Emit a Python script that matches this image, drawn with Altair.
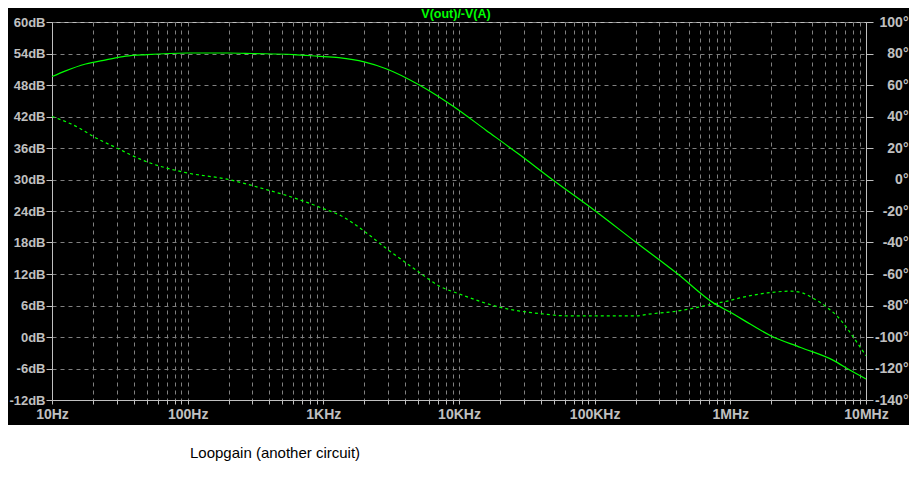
import altair as alt
import pandas as pd

# ---- data ----
mag_freq = [10, 12.6, 17.7, 25, 35, 50, 100, 200, 300, 600, 900, 1300, 2000, 2900, 5100,
            9000, 15800, 27700, 48700, 100000, 198000, 410000, 750000, 1000000, 1200000,
            2000000, 3300000, 5700000, 7600000, 10000000]
mag_db = [49.6, 50.7, 52.0, 52.8, 53.5, 53.8, 54.1, 54.1, 54.0, 53.8, 53.5, 53.2, 52.4, 51.1, 48.0,
          44.0, 39.4, 34.8, 30.0, 24.1, 18.2, 12.0, 6.5, 4.7, 3.5,
          0.2, -2.0, -4.4, -6.3, -8.0]

ph_freq = [10, 15.8, 20, 30, 48, 95, 200, 366, 640, 1000, 1350, 2000, 2900, 4900, 7200,
           10000, 19800, 40000, 64000, 150000, 200000, 250000, 410000, 600000, 750000,
           950000, 1200000, 1880000, 2800000, 3400000, 4000000, 5200000, 6100000, 7200000,
           8200000, 10000000]
ph_deg = [40, 32.8, 27.5, 20, 11.8, 4.5, 0, -6, -12.3, -18.5, -23, -32.8, -43.7, -57.9, -67.8,
          -72.6, -81, -85.2, -86.6, -86.6, -86.6, -85.5, -83.5, -80.8, -79,
          -77.2, -75, -72, -70.9, -72, -75, -81.4, -86.6, -94,
          -101, -111.8]

db_ticks = list(range(-12, 61, 6))
deg_ticks = list(range(-140, 101, 20))
decades = [10, 100, 1000, 10000, 100000, 1000000, 10000000]
decade_labels = ["10Hz", "100Hz", "1KHz", "10KHz", "100KHz", "1MHz", "10MHz"]
x_ticks = [d * m for d in decades[:-1] for m in range(1, 10)] + [decades[-1]]

title_text = ["V(out)/-V(A)"]
note_text = ["Loopgain (another circuit)"]

# ---- build ----
df_mag = pd.DataFrame({"freq": mag_freq, "db": mag_db})
df_ph = pd.DataFrame({"freq": ph_freq, "deg": ph_deg})
df_note = pd.DataFrame({"label": note_text})
df_title = pd.DataFrame({"label": title_text})

label_expr = ""
for v, l in zip(decades, decade_labels):
    label_expr += f"datum.value == {v} ? '{l}' : "
label_expr += "''"

GRAY = "#c0c0c0"
GRID = "#808080"
FONT = "Liberation Sans"
W, H = 814, 378

xscale = alt.Scale(type="log", domain=[10, 10000000], nice=False)
xaxis = alt.Axis(values=x_ticks, labelExpr=label_expr, grid=True, gridColor=GRID,
                 gridDash=[4, 4], gridWidth=1, tickSize=4, tickColor=GRAY, domainColor=GRAY,
                 labelPadding=3, labelFlush=False, labelOverlap=False, labelColor=GRAY,
                 labelFont=FONT, labelFontSize=14, labelFontWeight="bold", title=None)

mag = alt.Chart(df_mag).mark_line(color="#00ff00", strokeWidth=1.2, interpolate="monotone").encode(
    x=alt.X("freq:Q", scale=xscale, axis=xaxis),
    y=alt.Y("db:Q", scale=alt.Scale(domain=[-12, 60], nice=False, zero=False),
            axis=alt.Axis(orient="left", values=db_ticks, labelExpr="datum.value + 'dB'",
                          grid=True, gridColor=GRID, gridDash=[4, 4], tickSize=6,
                          tickColor=GRAY, domainColor=GRAY, labelPadding=1, labelColor=GRAY,
                          labelFont=FONT, labelFontSize=13, labelFontWeight="bold",
                          labelOverlap=False, labelFlush=False, title=None)),
)

phase = alt.Chart(df_ph).mark_line(color="#00ff00", strokeWidth=1.2, strokeDash=[3, 3],
                                    interpolate="monotone").encode(
    x=alt.X("freq:Q", scale=xscale, axis=xaxis),
    y=alt.Y("deg:Q", scale=alt.Scale(domain=[-140, 100], nice=False, zero=False),
            axis=alt.Axis(orient="right", values=deg_ticks, labelExpr="datum.value + '°'",
                          grid=False, tickSize=7, tickColor=GRAY, domainColor=GRAY,
                          labelPadding=35, labelAlign="right", labelColor=GRAY,
                          labelFont=FONT, labelFontSize=14, labelFontWeight="bold",
                          labelOverlap=False, labelFlush=False, title=None)),
)

white = alt.Chart(df_note).mark_rect(color="white").encode(
    x=alt.value(-50), x2=alt.value(W + 60), y=alt.value(403), y2=alt.value(480))

note = alt.Chart(df_note).mark_text(align="left", baseline="alphabetic", font=FONT,
                                    fontSize=15, color="black").encode(
    x=alt.value(138), y=alt.value(436), text="label:N")

title = alt.Chart(df_title).mark_text(align="center", baseline="alphabetic", font=FONT,
                                      fontSize=12.5, fontWeight="bold", color="#00ff00").encode(
    x=alt.value(404), y=alt.value(-4), text="label:N")

chart = alt.layer(mag, phase, white, note, title).resolve_scale(y="independent").properties(
    width=W, height=H,
    autosize=alt.AutoSizeParams(type="none"),
    padding={"left": 44, "top": 14, "right": 43, "bottom": 90},
    background="black",
).configure_view(stroke=GRAY, strokeWidth=1)

chart.save("out.html", embed_options={"renderer": "svg", "actions": False})
